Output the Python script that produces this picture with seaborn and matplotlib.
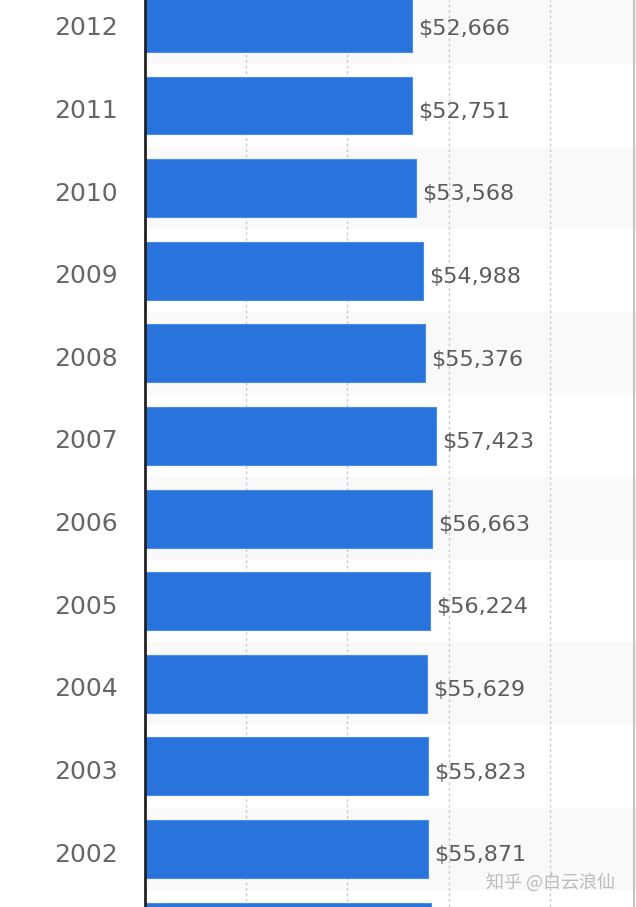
import matplotlib
matplotlib.use("Agg")
import matplotlib.pyplot as plt
import matplotlib.transforms as mtransforms
import seaborn as sns
import pandas as pd

years = ["2012", "2011", "2010", "2009", "2008", "2007", "2006",
         "2005", "2004", "2003", "2002", "2001"]
values = [52666, 52751, 53568, 54988, 55376, 57423, 56663,
          56224, 55629, 55823, 55871, 56531]
value_labels = ["$52,666", "$52,751", "$53,568", "$54,988", "$55,376", "$57,423",
                "$56,663", "$56,224", "$55,629", "$55,823", "$55,871", "$56,531"]
grid_ticks = [0, 20000, 40000, 60000, 80000]
watermark = "知乎 @白云浪仙"

df = pd.DataFrame({"year": years, "income": values})

sns.set_theme(style="white")
plt.rcParams["font.family"] = ["DejaVu Sans", "Noto Sans CJK SC"]

fig = plt.figure(figsize=(6.36, 9.07), dpi=100)
ax = fig.add_axes([145 / 636, 0.0, 1 - 145 / 636, 1.0])

y_top, y_bottom = -0.278, 10.702

# alternating faint row shading
for i in range(len(years)):
    if i % 2 == 0:
        ax.axhspan(i - 0.5, i + 0.5, color="#f9f9fa", zorder=0, lw=0)

sns.barplot(data=df, x="income", y="year", orient="h", color="#2873dc",
            saturation=1, width=0.70, ax=ax, zorder=3, edgecolor="#4a8ce6", linewidth=0.8)

for t in grid_ticks[1:]:
    ax.axvline(t, color="#cacace", lw=1.0, ls=(0, (2, 2)), zorder=1)

for i, (v, lab) in enumerate(zip(values, value_labels)):
    if y_top <= i <= y_bottom:
        ax.text(v + 1200, i + 0.075, lab, va="center", ha="left",
                fontsize=16, color="#5c5c5c", zorder=4)

ax.set_xlim(0, 97000)
ax.set_ylim(y_bottom, y_top)
ax.set_xlabel("")
ax.set_ylabel("")
ax.set_xticks([])
ax.tick_params(axis="y", length=0, pad=19.5, labelsize=18, labelcolor="#666666")
offset = mtransforms.ScaledTranslation(0, -3 / 100, fig.dpi_scale_trans)
for lbl in ax.get_yticklabels():
    lbl.set_transform(lbl.get_transform() + offset)

for s in ["top", "bottom"]:
    ax.spines[s].set_visible(False)
ax.spines["left"].set_color("#222222")
ax.spines["left"].set_linewidth(2)
ax.spines["left"].set_zorder(5)
ax.spines["right"].set_visible(False)
ax.axvline(96700, color="#c4c4c4", lw=1.5, zorder=2)

fig.text(550 / 636, 1 - 882 / 907, watermark, ha="center", va="center",
         fontsize=13, color="#bdbdbd", family=["Noto Sans CJK SC", "DejaVu Sans"])

fig.savefig("out.png", dpi=100)
